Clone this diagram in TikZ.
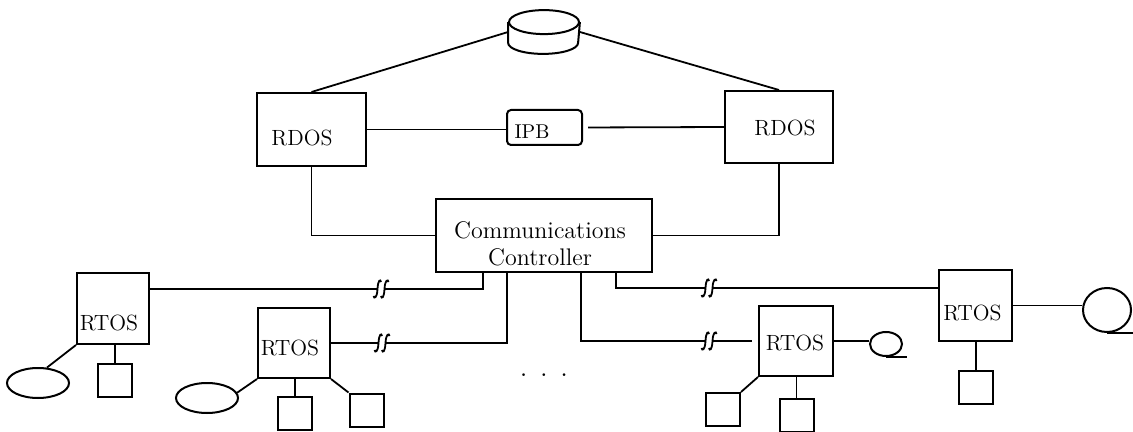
\documentclass[tikz,border=0pt]{standalone}
\usepackage{fontspec}
\usetikzlibrary{shapes.geometric}
\newcommand\commfont{\fontsize{12pt}{13.5pt}\selectfont}
\tikzset{
  box/.style={draw, line width=1pt, inner sep=0pt},
  unit/.style={draw, line width=1pt, inner sep=0pt, minimum width=17pt, minimum height=16.5pt},
  drive/.style={draw, line width=1pt, ellipse, inner sep=0pt, minimum width=31pt, minimum height=15pt},
  reel/.style={draw, line width=1pt, ellipse, inner sep=0pt},
  every label/.style={font=\fontsize{11pt}{13pt}\selectfont},
  brk/.pic={
    \fill[white] (-3.5,-3) rectangle (3.5,3);
    \draw (-7.5,7) .. controls (-7,10) and (-4,9.5) .. (-3.5,0) .. controls (-3,-9.5) and (-0.5,-10) .. (0,-7);
    \draw (0,7) .. controls (0.5,10) and (3,9.5) .. (3.5,0) .. controls (4,-9.5) and (7,-10) .. (7.5,-7);
  }
}

\begin{document}
\begin{tikzpicture}[x=0.5pt, y=-0.5pt, line width=0.9pt]
  \useasboundingbox (0,0) rectangle (1133,432);
  \node[inner sep=0pt, minimum width=35pt, minimum height=21pt] (disk) at (544,32) {};
  \draw[line width=1pt] ([yshift=-6pt]disk.north) ellipse[x radius=17.5pt, y radius=6pt];
  \draw[line width=1pt] ([yshift=-6pt]disk.north west) -- ([yshift=5.5pt]disk.south west) arc[start angle=180, end angle=360, x radius=17.5pt, y radius=5.5pt] -- ([yshift=-6pt]disk.north east);

  \node[box, minimum width=54.5pt, minimum height=36.5pt, label={[xshift=-4.75pt, yshift=-4.25pt]center:RDOS}] (rdosL) at (311.5,129.5) {};
  \node[box, minimum width=54pt, minimum height=36pt, label={[xshift=3pt, yshift=-0.5pt]center:RDOS}] (rdosR) at (779,127) {};
  \node[box, rounded corners=2pt, minimum width=37.5pt, minimum height=17.5pt, label={[xshift=-6.25pt, yshift=-2.25pt, font=\normalsize]center:IPB}] (ipb) at (544.5,127.5) {};
  \node[box, minimum width=108pt, minimum height=36.5pt, label={[xshift=-2pt, yshift=-4pt, align=center, font=\commfont]center:Communications\\Controller}] (cc) at (544,235.5) {};

  \node[box, minimum width=36pt, minimum height=35.5pt, label={[xshift=-2pt, yshift=-7.25pt]center:RTOS}] (rtos1) at (113,308.5) {};
  \node[box, minimum width=36pt, minimum height=35pt, label={[xshift=-2pt, yshift=-2.5pt]center:RTOS}] (rtos2) at (294,343) {};
  \node[box, minimum width=37pt, minimum height=35pt, label={[xshift=-0.5pt, yshift=-1pt]center:RTOS}] (rtos3) at (796,341) {};
  \node[box, minimum width=36.5pt, minimum height=35.5pt, label={[xshift=-1.5pt, yshift=-3.75pt]center:RTOS}] (rtos4) at (975.5,305.5) {};

  \node[drive] (ell1) at (38,383) {};
  \node[unit] (sq1) at (115,380.5) {};
  \node[drive] (ell2) at (207,398) {};
  \node[unit] (sq2a) at (295,413) {};
  \node[unit] (sq2b) at (366.5,410) {};
  \node[unit] (sq3a) at (723,409.5) {};
  \node[unit] (sq3b) at (796.5,415) {};
  \node[reel, minimum width=16pt, minimum height=12pt] (reel3) at (886,344) {};
  \node[unit] (sq4) at (976,387) {};
  \node[reel, minimum width=24pt, minimum height=22pt] (reel4) at (1107,310) {};
  \node[anchor=base, font=\fontsize{14pt}{16pt}\selectfont] (dots) at (544,376) {.\hspace{6.3pt}.\hspace{6.3pt}.};

  \draw (disk.west) -- (rdosL.north);
  \draw (disk.east) -- (rdosR.north);
  \draw (rdosL.east) -- (rdosL.east -| ipb.west);
  \draw[shorten <=2.5pt] (ipb.east) -- (rdosR.west);
  \draw (rdosL.south) |- (cc.west);
  \draw (rdosR.south) |- (cc.east);
  \draw ([xshift=24pt]cc.south west) |- ([yshift=9.75pt]rtos1.east);
  \draw ([xshift=36pt]cc.south west) |- (rtos2.east);
  \draw[shorten >=3pt] ([xshift=73pt]cc.south west) |- (rtos3.west);
  \draw ([xshift=90.5pt]cc.south west) |- ([yshift=8.75pt]rtos4.west);
  \pic at (381,289) {brk};
  \pic at (382,343) {brk};
  \pic at (709,341) {brk};
  \pic at (709,288) {brk};

  \draw (rtos1.south west) -- (ell1.60);
  \draw (rtos1.south -| sq1.north) -- (sq1.north);
  \draw (rtos2.south west) -- (ell2.10);
  \draw (rtos2.south -| sq2a.north) -- (sq2a.north);
  \draw (rtos2.south east) -- (sq2b.north west);
  \draw (rtos3.south west) -- (sq3a.north east);
  \draw (rtos3.south -| sq3b.north) -- (sq3b.north);
  \draw (rtos3.east) -- (rtos3.east -| reel3.west);
  \draw (reel3.south) -- ++(21,0);
  \draw (rtos4.south -| sq4.north) -- (sq4.north);
  \draw (rtos4.east) -- (rtos4.east -| reel4.west);
  \draw (reel4.south) -- ++(30,0);
\end{tikzpicture}
\end{document}
